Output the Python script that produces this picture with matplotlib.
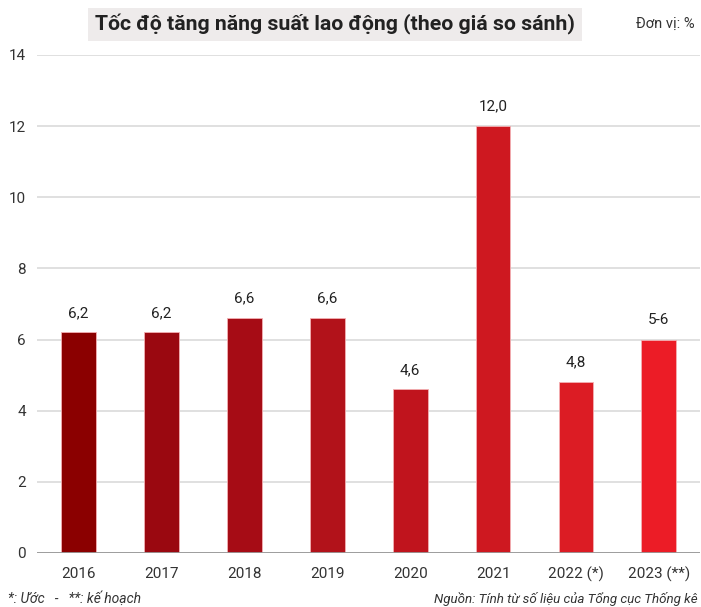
import matplotlib as mpl
mpl.use('Agg')
import matplotlib.pyplot as plt
from matplotlib.patches import Rectangle

# data
years = ['2016', '2017', '2018', '2019', '2020', '2021', '2022 (*)', '2023 (**)']
values = [6.2, 6.2, 6.6, 6.6, 4.6, 12.0, 4.8, 6.0]
value_labels = ['6,2', '6,2', '6,6', '6,6', '4,6', '12,0', '4,8', '5-6']
colors = ['#8B0000', '#9A0810', '#A60C15', '#B2121A', '#C0141D', '#CE1820', '#DC1C24', '#EC1C26']

plt.rcParams['font.family'] = ['Roboto', 'DejaVu Sans']

figure = plt.figure(figsize=(7.01, 6.07), dpi=100)
ax = figure.add_axes([0.053, 0.089, 0.946, 0.8204])

x = list(range(len(years)))
bars = ax.bar(x, values, width=0.42, color=colors, edgecolor='#F3B0B3', linewidth=0.6, zorder=3)
for rect, text in zip(bars, value_labels):
    ax.text(rect.get_x() + rect.get_width() / 2, rect.get_height() + 0.35, text,
            ha='center', va='bottom', fontsize=11, color='#222222')

ax.set_xlim(-0.5, 7.5)
ax.set_ylim(0, 14)
ax.set_yticks(range(0, 15, 2))
ax.set_xticks(x)
ax.set_xticklabels(years)
ax.grid(True, axis='y', color='#DDDDDD', linewidth=1.3, zorder=0)
ax.axhline(0, color='#999999', linewidth=1.3, zorder=4)
for side in ['top', 'right', 'left', 'bottom']:
    ax.spines[side].set_visible(False)
ax.tick_params(axis='both', length=0, labelsize=11, labelcolor='#333333')
ax.tick_params(axis='x', pad=10)
ax.tick_params(axis='y', pad=8)

# title box
figure.patches.append(Rectangle((88 / 701, 1 - 41 / 607), 494 / 701, 33 / 607,
                                transform=figure.transFigure, facecolor='#EEEBEB',
                                edgecolor='none', zorder=0))
figure.text(95 / 701, 1 - 24 / 607, 'Tốc độ tăng năng suất lao động (theo giá so sánh)',
            ha='left', va='center', fontsize=15.3, fontweight='bold', color='#222222',
            fontstretch='condensed')
figure.text(695 / 701, 1 - 24 / 607, 'Đơn vị: %', ha='right', va='center',
            fontsize=10.5, color='#333333')

# footnotes
figure.text(8 / 701, 1 - 599 / 607, '*: Ước   -   **: kế hoạch', ha='left', va='center',
            fontsize=10, style='italic', color='#333333')
figure.text(698 / 701, 1 - 599 / 607, 'Nguồn: Tính từ số liệu của Tổng cục Thống kê',
            ha='right', va='center', fontsize=9.6, style='italic', color='#333333')

figure.savefig('out.png', dpi=100)
plt.close(figure)
